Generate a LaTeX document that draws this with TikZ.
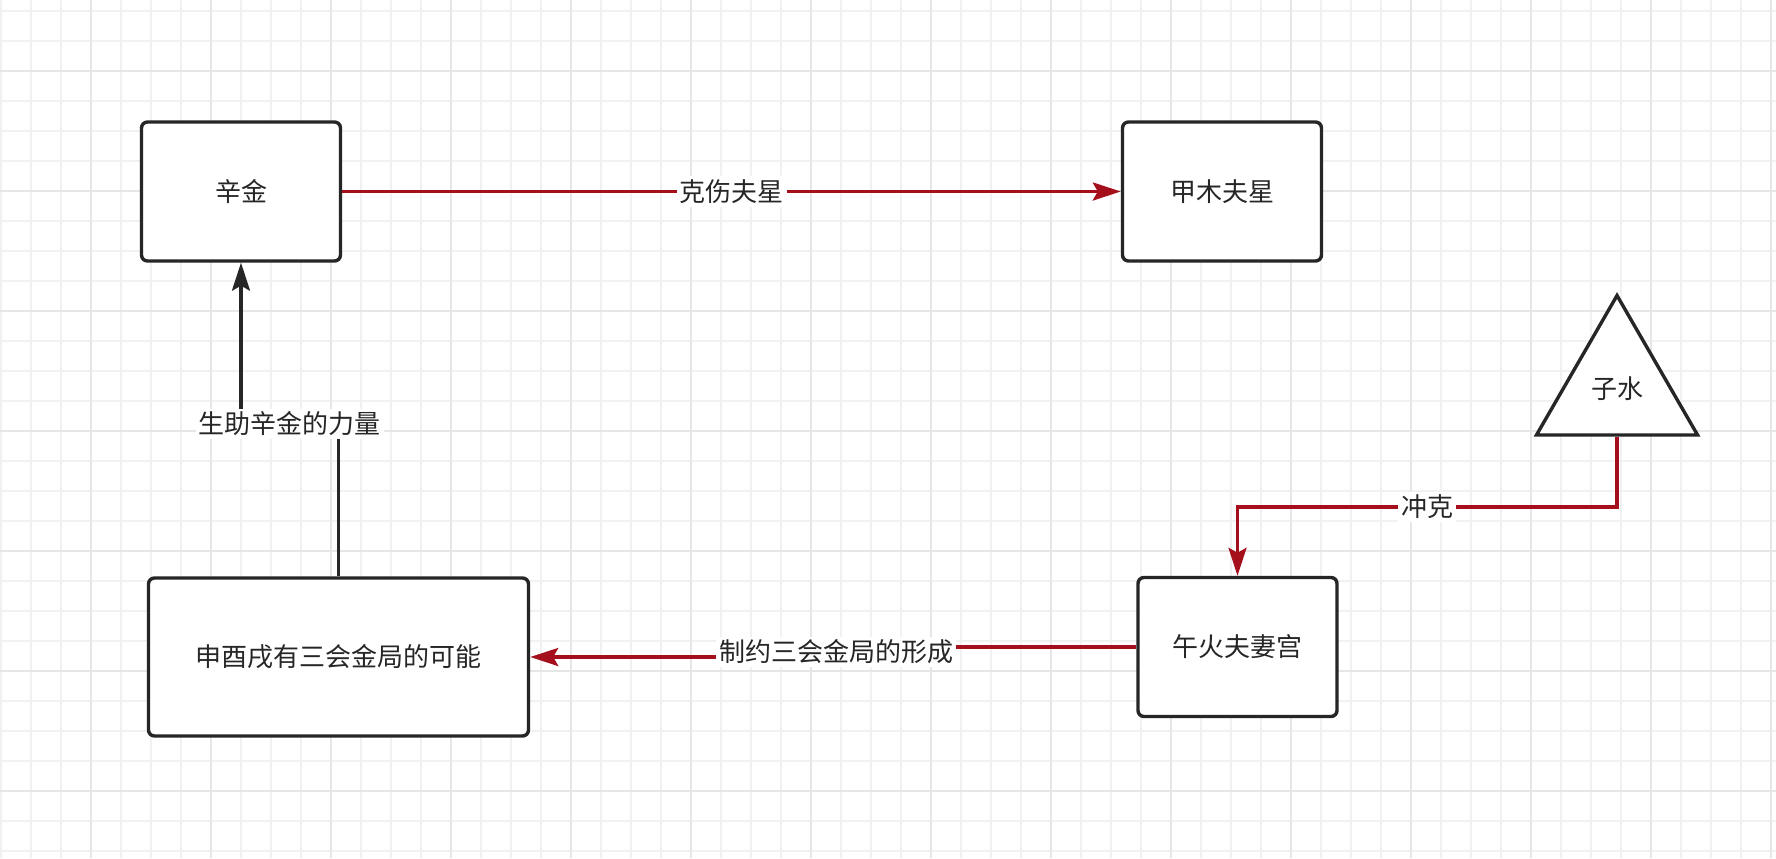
\documentclass[tikz,border=0pt]{standalone}
\usepackage{fontspec}
\setmainfont{Noto Sans CJK SC}
\usetikzlibrary{shapes.geometric,arrows.meta}
\definecolor{ink}{HTML}{262626}
\definecolor{kered}{HTML}{A50F1C}
\definecolor{gridl}{HTML}{F1F1F1}
\definecolor{gridd}{HTML}{E6E6E6}
\tikzstyle{box}=[rectangle, draw=ink, line width=1.7pt, rounded corners=3pt, fill=white, minimum width=99.5pt, minimum height=69.5pt, text=ink]
\tikzstyle{wide}=[box, minimum width=190pt, minimum height=79pt]
\tikzstyle{tri}=[regular polygon, regular polygon sides=3, draw=ink, line width=1.7pt, fill=white, minimum size=93pt, inner sep=0pt, text=ink]
\tikzstyle{lbl}=[fill=white, inner sep=1.5pt, text=ink]
\tikzstyle{ke}=[draw=kered, line width=1.6pt]
\tikzstyle{blk}=[draw=ink, line width=1.6pt]

\begin{document}
\begin{tikzpicture}[x=0.5pt, y=-0.5pt, font=\fontsize{13pt}{15pt}\selectfont, >={Stealth[length=14pt,width=9pt,inset=2.5pt]}]
            \fill[white] (0,0) rectangle (1776,858);
            \useasboundingbox (0,0) rectangle (1776,858);
            % grid
            \foreach \x in {1,31,...,1771} \draw[gridl, line width=1pt] (\x,0) -- (\x,858);
            \foreach \y in {11,41,...,851} \draw[gridl, line width=1pt] (0,\y) -- (1776,\y);
            \foreach \x in {91,211,...,1771} \draw[gridd, line width=1pt] (\x,0) -- (\x,858);
            \foreach \y in {71,191,...,851} \draw[gridd, line width=1pt] (0,\y) -- (1776,\y);
            % nodes
            \node[box] at (241,191.5) (xin) {辛金};
            \node[box] at (1222,191.5) (jia) {甲木夫星};
            \node[wide] at (338.5,657) (shen) {申酉戌有三会金局的可能};
            \node[box] at (1237.5,647) (wuhuo) {午火夫妻宫};
            \node[tri] at (1617,388.5) (zishui) {子水};
            % edges
            \draw[ke,->] (xin) -- node[lbl]{克伤夫星} (jia);
            \draw[blk,->] (shen.north) -- (shen.north |- 0,424) -- node[lbl]{生助辛金的力量} (xin.south |- 0,424) -- (xin.south);
            \draw[ke,->] (zishui.south) -- (zishui.south |- 0,507) -- node[lbl]{冲克} (wuhuo.north |- 0,507) -- (wuhuo.north);
            \draw[ke,->] (wuhuo.west) -- (wuhuo.west -| 836,0) -- node[lbl]{制约三会金局的形成} (shen.east -| 836,0) -- (shen.east);
\end{tikzpicture}
\end{document}
